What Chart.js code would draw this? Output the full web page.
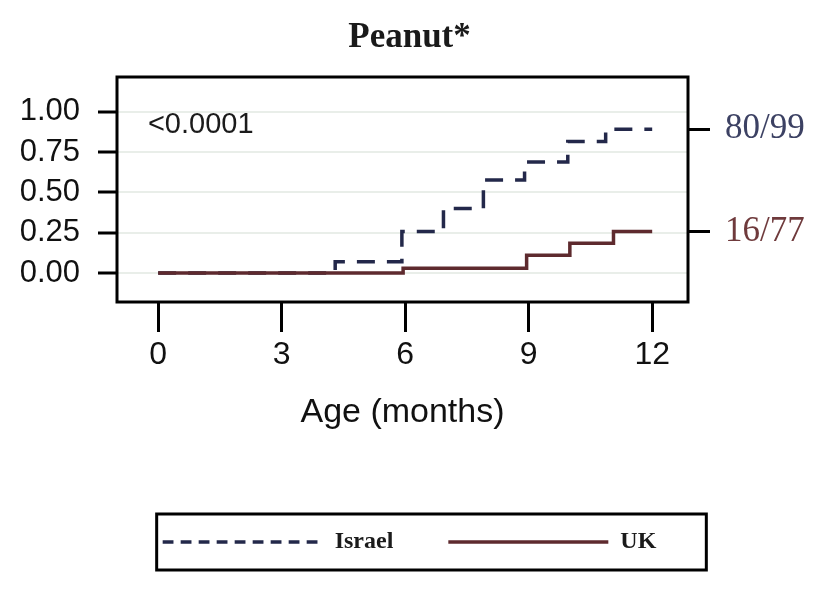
<!DOCTYPE html>
<html>
<head>
<meta charset="utf-8">
<script src="https://cdn.jsdelivr.net/npm/chart.js@4/dist/chart.umd.min.js"></script>
<style>
  html, body { margin: 0; padding: 0; background: #fff; }
  #wrap { width: 819px; height: 600px; }
</style>
</head>
<body>
<div id="wrap"><canvas id="kmChart" width="819" height="600"></canvas></div>
<script>
// curvas de incidencia acumulada (cacahuete), Israel vs UK
const israelMonths = [0, 4.3, 5.92, 6.93, 7.9, 8.9, 9.95, 10.87, 12];
const israelProb   = [0, 0.07, 0.257, 0.40, 0.578, 0.69, 0.816, 0.893, 0.893];
const ukMonths = [0, 5.95, 8.95, 10.0, 11.06, 12];
const ukProb   = [0, 0.03, 0.11, 0.185, 0.257, 0.257];

const xTickValues = [0, 3, 6, 9, 12];
const yTickValues = [0, 0.25, 0.5, 0.75, 1];
const yTickLabels = ['0.00', '0.25', '0.50', '0.75', '1.00'];
const rightLabels = ['80/99', '16/77'];
const seriesNames = ['Israel', 'UK'];
const pValueText = '<0.0001';

const colors = {
    israel: '#23284a',
    uk: '#5e2a2e',
    israelLabel: '#3c4163',
    ukLabel: '#6f3a3c',
    text: '#1b1b1b',
    grid: '#e9eee9'
};

const toPoints = (xs, ys) => xs.map((x, i) => ({ x: x, y: ys[i] }));

//marco negro del area de la grafica + texto del p-valor
const framePlugin = {
    id: 'frame',
    afterDatasetsDraw(chart) {
        const { ctx, chartArea: a, scales } = chart;
        ctx.save();
        ctx.strokeStyle = '#000';
        ctx.lineWidth = 3;
        ctx.strokeRect(a.left, a.top, a.right - a.left, a.bottom - a.top);
        ctx.fillStyle = colors.text;
        ctx.font = '29px "Liberation Sans", Arial, sans-serif';
        ctx.textBaseline = 'middle';
        ctx.textAlign = 'left';
        ctx.fillText(pValueText, scales.x.getPixelForValue(-0.25), scales.y.getPixelForValue(0.92));
        ctx.restore();
    }
};

//recuadro alrededor de la leyenda
const legendBoxPlugin = {
    id: 'legendBox',
    afterDraw(chart) {
        const hb = chart.legend && chart.legend.legendHitBoxes;
        if (!hb || !hb.length) return;
        const first = hb[0];
        const last = hb[hb.length - 1];
        const left = first.left - 6;
        const right = last.left + last.width + 50;
        const top = first.top - 16;
        const bottom = first.top + first.height + 16;
        const ctx = chart.ctx;
        ctx.save();
        ctx.strokeStyle = '#000';
        ctx.lineWidth = 3;
        ctx.strokeRect(left, top, right - left, bottom - top);
        ctx.restore();
    }
};

const ctx = document.getElementById('kmChart');

new Chart(ctx, {
    type: 'line',
    data: {
        datasets: [
            {
                label: seriesNames[0],
                data: toPoints(israelMonths, israelProb),
                borderColor: colors.israel,
                backgroundColor: colors.israel,
                borderWidth: 3.5,
                borderDash: [18, 12],
                stepped: true,
                pointRadius: 0,
                fill: false,
                order: 1
            },
            {
                label: seriesNames[1],
                data: toPoints(ukMonths, ukProb),
                borderColor: colors.uk,
                backgroundColor: colors.uk,
                borderWidth: 3.5,
                stepped: true,
                pointRadius: 0,
                fill: false,
                order: 0
            }
        ]
    },
    options: {
        responsive: false,
        animation: false,
        layout: { padding: { top: 0, left: 0, right: 0, bottom: 36 } },
        scales: {
            x: {
                type: 'linear',
                min: -1,
                max: 12.87,
                afterBuildTicks: scale => { scale.ticks = xTickValues.map(v => ({ value: v })); },
                afterFit: scale => { scale.height = 173; },
                border: { display: false },
                grid: {
                    drawOnChartArea: false,
                    drawTicks: true,
                    tickLength: 30,
                    tickWidth: 3,
                    tickColor: '#000'
                },
                ticks: {
                    padding: 4,
                    color: '#111',
                    font: { family: '"Liberation Sans", Arial, sans-serif', size: 32 },
                    callback: value => String(value)
                },
                title: {
                    display: true,
                    text: 'Age (months)',
                    color: '#111',
                    font: { family: '"Liberation Sans", Arial, sans-serif', size: 34 },
                    padding: { top: 0, bottom: 42 }
                }
            },
            y: {
                type: 'linear',
                position: 'left',
                min: -0.18,
                max: 1.217,
                afterBuildTicks: scale => { scale.ticks = yTickValues.map(v => ({ value: v })); },
                afterFit: scale => { scale.width = 117; },
                border: { display: false },
                grid: {
                    color: colors.grid,
                    lineWidth: 2,
                    tickLength: 19,
                    tickWidth: 3,
                    tickColor: '#000'
                },
                ticks: {
                    padding: 18,
                    color: '#111',
                    font: { family: '"Liberation Sans", Arial, sans-serif', size: 31 },
                    callback: (value, index) => yTickLabels[index]
                }
            },
            y2: {
                type: 'linear',
                position: 'right',
                min: -0.18,
                max: 1.217,
                afterBuildTicks: scale => {
                    scale.ticks = [israelProb[israelProb.length - 1], ukProb[ukProb.length - 1]].map(v => ({ value: v }));
                },
                afterFit: scale => { scale.width = 131; },
                border: { display: false },
                grid: {
                    drawOnChartArea: false,
                    tickLength: 22,
                    tickWidth: 3,
                    tickColor: '#000'
                },
                ticks: {
                    padding: 15,
                    color: c => (c.index === 0 ? colors.israelLabel : colors.ukLabel),
                    font: { family: '"Liberation Serif", "Times New Roman", serif', size: 35 },
                    callback: (value, index) => rightLabels[index]
                }
            }
        },
        plugins: {
            title: {
                display: true,
                text: 'Peanut*',
                color: '#1a1a1a',
                font: { family: '"Liberation Serif", "Times New Roman", serif', size: 35, weight: 'bold', lineHeight: 1.2 },
                padding: { top: 17, bottom: 18 }
            },
            legend: {
                display: true,
                position: 'bottom',
                labels: {
                    usePointStyle: true,
                    pointStyle: 'line',
                    pointStyleWidth: 160,
                    padding: 55,
                    color: colors.text,
                    font: { family: '"Liberation Serif", "Times New Roman", serif', size: 24, weight: 'bold' },
                    sort: (a, b) => a.datasetIndex - b.datasetIndex,
                    generateLabels: chart => {
                        const items = Chart.defaults.plugins.legend.labels.generateLabels(chart);
                        return items.map(item => {
                            const ds = chart.data.datasets[item.datasetIndex];
                            //en la leyenda el guion es mas corto
                            const dash = ds.borderDash ? ds.borderDash.map(d => d * 0.6) : [];
                            return Object.assign({}, item, {
                                lineDash: dash,
                                lineWidth: ds.borderWidth,
                                strokeStyle: ds.borderColor
                            });
                        });
                    }
                }
            },
            tooltip: { enabled: false }
        }
    },
    plugins: [framePlugin, legendBoxPlugin]
});
</script>
</body>
</html>
